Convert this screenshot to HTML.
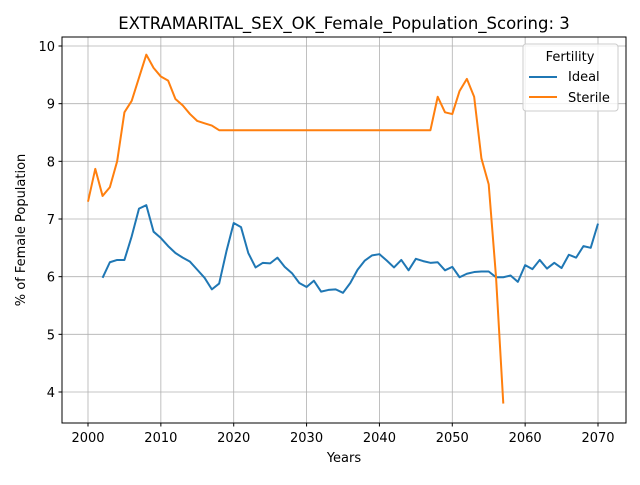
<!DOCTYPE html>
<html><head><meta charset="utf-8"><style>body{margin:0;background:#fff}svg{font-family:"DejaVu Sans","Liberation Sans",sans-serif}</style></head>
<body>
<svg id="chart" width="640" height="480">
<rect width="640" height="480" fill="#fff"/>
<text x="344" y="29" font-size="16.5" text-anchor="middle">EXTRAMARITAL_SEX_OK_Female_Population_Scoring: 3</text>
<g id="grid"></g><g id="series"></g><g id="ticks"></g>
<rect x="62" y="37" width="564" height="386" fill="none" stroke="#000" stroke-width="1"/>
<text x="344" y="462" font-size="13" text-anchor="middle">Years</text>
<text transform="translate(25,230) rotate(-90)" font-size="13" text-anchor="middle">% of Female Population</text>
<g>
<rect x="523" y="44" width="95" height="67" rx="3" fill="#fff" fill-opacity="0.8" stroke="#ccc"/>
<text x="570" y="61" font-size="13" text-anchor="middle">Fertility</text>
<g><line x1="529" y1="77" x2="557" y2="77" stroke="#1f77b4" stroke-width="2"/><text x="568" y="81" font-size="13">Ideal</text></g>
<g><line x1="529" y1="97" x2="557" y2="97" stroke="#ff7f0e" stroke-width="2"/><text x="568" y="102" font-size="13">Sterile</text></g>
</g>
</svg>
<script>
const xTicks=[2000,2010,2020,2030,2040,2050,2060,2070];
const yTicks=[4,5,6,7,8,9,10];
const idealStart=2002;
const idealValues=[5.98,6.25,6.29,6.29,6.7,7.18,7.24,6.78,6.67,6.53,6.41,6.33,6.26,6.12,5.98,5.78,5.88,6.44,6.93,6.86,6.41,6.16,6.24,6.23,6.33,6.17,6.06,5.89,5.82,5.93,5.74,5.77,5.78,5.72,5.89,6.12,6.28,6.37,6.39,6.28,6.16,6.29,6.11,6.31,6.27,6.24,6.25,6.11,6.17,5.99,6.05,6.08,6.09,6.09,5.99,5.99,6.02,5.91,6.2,6.13,6.29,6.14,6.24,6.15,6.38,6.33,6.53,6.5,6.92];
const sterileStart=2000;
const sterileValues=[7.3,7.87,7.4,7.55,8.0,8.85,9.05,9.45,9.85,9.62,9.47,9.4,9.08,8.97,8.82,8.7,8.66,8.62,8.54,8.54,8.54,8.54,8.54,8.54,8.54,8.54,8.54,8.54,8.54,8.54,8.54,8.54,8.54,8.54,8.54,8.54,8.54,8.54,8.54,8.54,8.54,8.54,8.54,8.54,8.54,8.54,8.54,8.54,9.12,8.85,8.82,9.22,9.43,9.12,8.05,7.6,6.0,3.8];
const NS='http://www.w3.org/2000/svg';
function xs(v){return 88+(v-2000)*(510/70);}
function ys(v){return 392-(v-4)*(346/6);}
function mk(t,a,p){const e=document.createElementNS(NS,t);for(const k in a)e.setAttribute(k,a[k]);p.appendChild(e);return e;}
const grid=document.getElementById('grid'),ticks=document.getElementById('ticks'),series=document.getElementById('series');
xTicks.forEach(t=>{const x=xs(t);
const g=mk('line',{x1:x,x2:x,y1:37,y2:423,stroke:'#b0b0b0','stroke-width':0.8},grid);


mk('line',{x1:x,x2:x,y1:423,y2:426.5,stroke:'#000'},ticks);
const l=mk('text',{x:x,y:442,'font-size':13,'text-anchor':'middle'},ticks);l.textContent=t;

});
yTicks.forEach(t=>{const y=ys(t);
const g=mk('line',{x1:62,x2:626,y1:y,y2:y,stroke:'#b0b0b0','stroke-width':0.8},grid);


mk('line',{x1:58.5,x2:62,y1:y,y2:y,stroke:'#000'},ticks);
const l=mk('text',{x:55,y:y+5,'font-size':13,'text-anchor':'end'},ticks);l.textContent=t;

});
function draw(vals,start,color,name){
const pts=vals.map((v,i)=>xs(start+i).toFixed(2)+','+ys(v).toFixed(2)).join(' ');
const p=mk('polyline',{points:pts,fill:'none',stroke:color,'stroke-width':2,'stroke-linejoin':'round'},series);

}
draw(idealValues,idealStart,'#1f77b4','ideal-line');
draw(sterileValues,sterileStart,'#ff7f0e','sterile-line');
</script>
</body></html>
